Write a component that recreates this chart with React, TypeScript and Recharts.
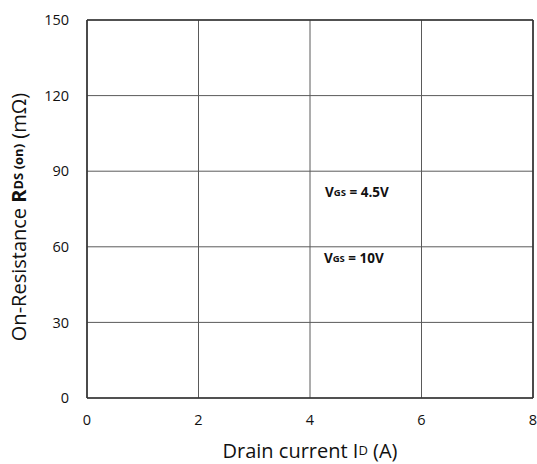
import {
  ScatterChart,
  Scatter,
  XAxis,
  YAxis,
  CartesianGrid,
  ReferenceLine,
} from "recharts";

// axis ticks
const xTicks = [0, 2, 4, 6, 8];
const yTicks = [0, 30, 60, 90, 120, 150];

// curve annotations (drain current A, resistance mΩ)
const labelX = [4.27, 4.25];
const labelY = [81.7, 55.6];
const labelVolt = ["4.5V", "10V"];

const FONT = "'Open Sans', 'Noto Sans', sans-serif";

function VgsLabel(props: any) {
  const { cx, cy, payload } = props;
  return (
    <text
      x={cx}
      y={cy}
      fontFamily={FONT}
      fontWeight={700}
      fontSize={13.5}
      fill="#111"
      dominantBaseline="central"
    >
      V
      <tspan fontSize={9.5}>GS</tspan>
      <tspan> = {payload.text}</tspan>
    </text>
  );
}

function YTitle(props: any) {
  const vb = props.viewBox || {};
  const cx = 18;
  const cy = (vb.y ?? 20) + (vb.height ?? 378) / 2 + 8;
  return (
    <text
      x={cx}
      y={cy}
      transform={`rotate(-90 ${cx} ${cy})`}
      textAnchor="middle"
      dominantBaseline="central"
      fontFamily={FONT}
      fontSize={20}
      fill="#111"
    >
      On-Resistance{" "}
      <tspan fontWeight={700}>R</tspan>
      <tspan fontWeight={700} fontSize={13}>
        DS (on)
      </tspan>
      <tspan> (mΩ)</tspan>
    </text>
  );
}

function XTitle(props: any) {
  const vb = props.viewBox || {};
  const cx = (vb.x ?? 87) + (vb.width ?? 446) / 2;
  return (
    <text
      x={cx}
      y={450}
      textAnchor="middle"
      dominantBaseline="central"
      fontFamily={FONT}
      fontSize={20}
      fill="#111"
    >
      Drain current I
      <tspan fontSize={13}>D</tspan>
      <tspan> (A)</tspan>
    </text>
  );
}

export default function App() {
  const tick = { fontSize: 14.5, fill: "#111", fontFamily: FONT };
  const frame = { stroke: "#333", strokeWidth: 1.6 };
  const notes = labelVolt.map((text, i) => ({ x: labelX[i], y: labelY[i], text }));
  return (
    <div style={{ position: "absolute", left: 0, top: 0, background: "#fff" }}>
      <ScatterChart
        width={537}
        height={464}
        margin={{ top: 20, right: 4, bottom: 0, left: 0 }}
      >
        <CartesianGrid stroke="#5a5a5a" strokeWidth={1} />
        <XAxis
          type="number"
          dataKey="x"
          domain={[0, 8]}
          ticks={xTicks}
          height={66}
          tick={tick}
          tickLine={false}
          tickSize={0}
          tickMargin={17}
          axisLine={frame}
          label={<XTitle />}
        />
        <YAxis
          type="number"
          dataKey="y"
          domain={[0, 150]}
          ticks={yTicks}
          width={87}
          tick={tick}
          tickLine={false}
          tickSize={0}
          tickMargin={18}
          axisLine={frame}
          label={<YTitle />}
        />
        <ReferenceLine y={150} stroke="#333" strokeWidth={1.6} />
        <ReferenceLine x={8} stroke="#333" strokeWidth={1.6} />
        <Scatter data={notes} shape={VgsLabel} isAnimationActive={false} />
      </ScatterChart>
    </div>
  );
}
